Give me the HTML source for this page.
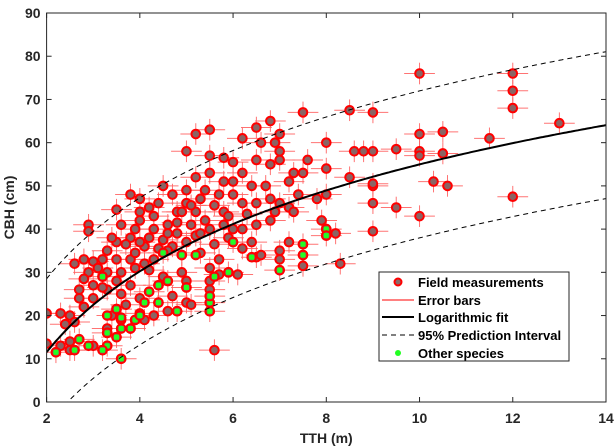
<!DOCTYPE html>
<html><head><meta charset="utf-8"><style>
body{margin:0;background:#fff;}
svg{display:block;font-family:"Liberation Sans",Arial,sans-serif;}
</style></head><body>
<svg id="chart" width="616" height="448" viewBox="0 0 616 448" xmlns="http://www.w3.org/2000/svg">
<rect width="616" height="448" fill="#fff"/>
<g id="marks"></g>
<g id="axes"></g>
<g id="legend">
<rect x="379" y="272" width="190" height="89" fill="#fff" stroke="#262626" stroke-width="1"/>
<g>
<circle cx="398" cy="282" r="3.5" fill="#8a6a6a" stroke="#f00" stroke-width="2"/>
<text x="418" y="287" font-size="13" font-weight="bold" fill="#000">Field measurements</text></g>
<g>
<line x1="382" y1="300" x2="414" y2="300" stroke="#f00" stroke-width="1"/>
<text x="418" y="305" font-size="13" font-weight="bold" fill="#000">Error bars</text></g>
<g>
<line x1="382" y1="317" x2="414" y2="317" stroke="#000" stroke-width="2"/>
<text x="418" y="322" font-size="13" font-weight="bold" fill="#000">Logarithmic fit</text></g>
<g>
<line x1="382" y1="335" x2="414" y2="335" stroke="#000" stroke-width="1" stroke-dasharray="5,4"/>
<text x="418" y="340" font-size="13" font-weight="bold" fill="#000">95% Prediction Interval</text></g>
<g>
<circle cx="398" cy="353" r="3" fill="#2f2"/>
<text x="418" y="358" font-size="13" font-weight="bold" fill="#000">Other species</text></g>
</g>
</svg>
<script>
const xTicks=[2,4,6,8,10,12,14];
const yTicks=[0,10,20,30,40,50,60,70,80,90];
const fitA=[-7.2];
const fitB=[27];
const piHalf=[17];
const fieldX=[10,12,12,12,13,11.5,10,10,10.5,10.5,10,9.5,9,8.8,8.6,8.5,9,8.5,9,9,9,9,10,9.5,10.3,10.6,12,8,8,8,7.8,7.9,8,8,8.2,8.3,7.5,7.5,7.3,7.6,7.2,7.4,7.5,7.5,7.5,7.2,7,7,7,6.8,7,6.9,7,7,6.5,6.2,6.5,6.6,6.8,6.4,6.7,6,6.2,6,6,5.8,6.2,6.5,6.8,7,7.2,7.3,6.8,6.5,6.2,6,6,6.4,6.5,6.2,6.6,5.5,5.2,5.5,5.8,5,5.2,5.5,5.8,5,5.4,5.7,5.6,5.2,5,5.4,5.8,5.5,5.2,5,5.6,5.9,5.3,5.7,5.5,5.7,5.9,6.1,5.5,5.5,5.5,5.5,5.5,5.6,4.9,4.9,5,5,5,4.8,5.1,4.5,4.7,4.8,4.4,4.2,4.6,4.3,4,4,4,4.2,4.5,4.7,4.8,4.5,4.3,4.1,4.2,4.5,4.4,4.6,4.2,4,4.4,4.7,4.6,4.3,4.1,4,3.8,3.5,3.6,3.8,3.7,3.5,3.3,3.8,3.5,3.2,3,3.3,3.6,3.9,3.2,2.9,3.5,3.8,3,2.8,2.7,3.3,3.6,3.7,3.5,3.4,3.6,3.9,3.8,3.3,3.3,3.5,3.3,3.2,3.6,3,2.7,2.5,2.5,2.6,2.2,2.3,2,2,2.3,2.5,2.6,2.4,2.8,2.7,2.9,2.9,2.6,2.8,3.1,3.9,4.1,4.6,4.9,5.1,5.3,4.3,3.9,3.2,3,5.9,6.3,4.8,5.3,4.4,3.4,6.9,5.1,4.6,4.0];
const fieldY=[76,76,72,68,64.5,61,62,58,57.5,62.5,57,58.5,58,58,58,67.5,67,52,50,50.5,46,39.5,43,45,51,50,47.5,60,54,48,47,42,40,38.5,39,32,67,53,53,56,51,48,36.5,34,31.5,37,35,33,30.5,65,62,60,58,56,63.5,61,56,60,55,50,50,55.5,53,51,48,44,46,46,47,46,45,44,42,41,40,40,37,37,33.5,35.5,34,63,62,57,56.5,58,52,53,51,49,49,48,45.5,44,46,42,41,40,38.5,37,36.5,38,34.5,33,31,29.5,30,29.5,28,26,24.5,23,21,12,34,30,28,26.5,23,21,22.5,50,48,44,46,45,41,40,47,44,42,38,37.5,36,39,34.5,33,32,30.5,29,27,28,25.5,24,23,24.5,21,20,19,20.5,48,44.5,41,38,36.5,37,35,33,33,33,32.5,30,30,31,29,30,28,27,27,28.5,26,26,25,22.5,21.5,20,19,19,17,17,16,15,13,12,10,13,14.5,14,12,12,11.5,13,13.5,20.5,20.5,20,18.5,18,22,24,41,39.5,32,33,31,40,36,35,44,41,39,43,34.5,26.5,24,43,43.5,41.5,47,35.5,38,44,45.5,39,37];
const otherX=[2.2,2.6,2.7,3.3,3.2,3.6,3.3,3.5,3.6,3.3,3.6,3.9,3.8,4,4.1,4.4,4.2,4.6,4.4,5,4.8,5.5,5.5,5.5,5.6,5.9,5.2,4.5,4.9,7,7.5,7.5,8,8,6.4,6,3.5,2.9,3.2];
const otherY=[11.5,12,14.5,13,12,10,16,15,17,20,19.5,19,17,20,23,23,25.5,28,27,26.5,21,21,23,24.5,29,30,34,34.5,34,30.5,34,36.5,40,38.5,33.5,37,21.5,13,29];

const NS='http://www.w3.org/2000/svg';
const L=46.6,R=606,T=13,B=402;
const sx=v=>L+(v-2)/12*(R-L);
const sy=v=>B-v/90*(B-T);
function mk(tag,attrs,parent){const e=document.createElementNS(NS,tag);for(const k in attrs)e.setAttribute(k,attrs[k]);parent.appendChild(e);return e;}
const marks=document.getElementById('marks');
const axes=document.getElementById('axes');
const clip=mk('clipPath',{id:'pc'},document.getElementById('chart'));
mk('rect',{x:L,y:T,width:R-L,height:B-T},clip);
const plot=mk('g',{'clip-path':'url(#pc)'},marks);

const eb=mk('g',{},plot);


for(let i=0;i<fieldX.length;i++){
  const x=fieldX[i],y=fieldY[i];
  mk('line',{x1:sx(x-0.33),x2:sx(x+0.33),y1:sy(y),y2:sy(y),stroke:'#ff6464','stroke-width':1,opacity:0.9},eb);
  mk('line',{x1:sx(x),x2:sx(x),y1:sy(y-2.5),y2:sy(y+2.5),stroke:'#ff6464','stroke-width':1,opacity:0.9},eb);
}
const pts=mk('g',{},plot);


for(let i=0;i<fieldX.length;i++){
  const c=mk('circle',{cx:sx(fieldX[i]),cy:sy(fieldY[i]),r:4.3,fill:'#8a6464',stroke:'#f00','stroke-width':2},pts);
  
  
}
const os=mk('g',{},plot);


for(let i=0;i<otherX.length;i++){
  mk('circle',{cx:sx(otherX[i]),cy:sy(otherY[i]),r:4.3,fill:'#8a6464',stroke:'#f00','stroke-width':2},os);
  const c=mk('rect',{x:sx(otherX[i])-2.5,y:sy(otherY[i])-2.5,width:5,height:5,fill:'#2f2'},os);
  
  
}
function curve(off){let d='';for(let x=2;x<=14.001;x+=0.05){const y=fitA[0]+fitB[0]*Math.log(x)+off;d+=(d?'L':'M')+sx(x).toFixed(1)+','+sy(y).toFixed(1);}return d;}
const fit=mk('path',{d:curve(0),fill:'none',stroke:'#000','stroke-width':2},plot);


const up=mk('path',{d:curve(piHalf[0]),fill:'none',stroke:'#000','stroke-width':1,'stroke-dasharray':'5,4'},plot);


const lo=mk('path',{d:curve(-piHalf[0]),fill:'none',stroke:'#000','stroke-width':1,'stroke-dasharray':'5,4'},plot);



const box=mk('rect',{x:L,y:T,width:R-L,height:B-T,fill:'none',stroke:'#262626','stroke-width':1},axes);


xTicks.forEach(v=>{
  mk('line',{x1:sx(v),x2:sx(v),y1:B,y2:B-5,stroke:'#262626'},axes);
  mk('line',{x1:sx(v),x2:sx(v),y1:T,y2:T+5,stroke:'#262626'},axes);
  const t=mk('text',{x:sx(v),y:B+21,'text-anchor':'middle','font-size':14,'font-weight':'bold',fill:'#262626'},axes);
  t.textContent=v;
  
  
});
yTicks.forEach(v=>{
  mk('line',{x1:L,x2:L+5,y1:sy(v),y2:sy(v),stroke:'#262626'},axes);
  mk('line',{x1:R,x2:R-5,y1:sy(v),y2:sy(v),stroke:'#262626'},axes);
  const t=mk('text',{x:L-6,y:sy(v)+5,'text-anchor':'end','font-size':14,'font-weight':'bold',fill:'#262626'},axes);
  t.textContent=v;
  
  
});
const xt=mk('text',{x:(L+R)/2,y:443,'text-anchor':'middle','font-size':14,'font-weight':'bold',fill:'#262626'},axes);
xt.textContent='TTH (m)';


const yt=mk('text',{x:0,y:0,'text-anchor':'middle','font-size':14,'font-weight':'bold',fill:'#262626',transform:'translate(14,'+((T+B)/2)+') rotate(-90)'},axes);
yt.textContent='CBH (cm)';


</script>
</body></html>
